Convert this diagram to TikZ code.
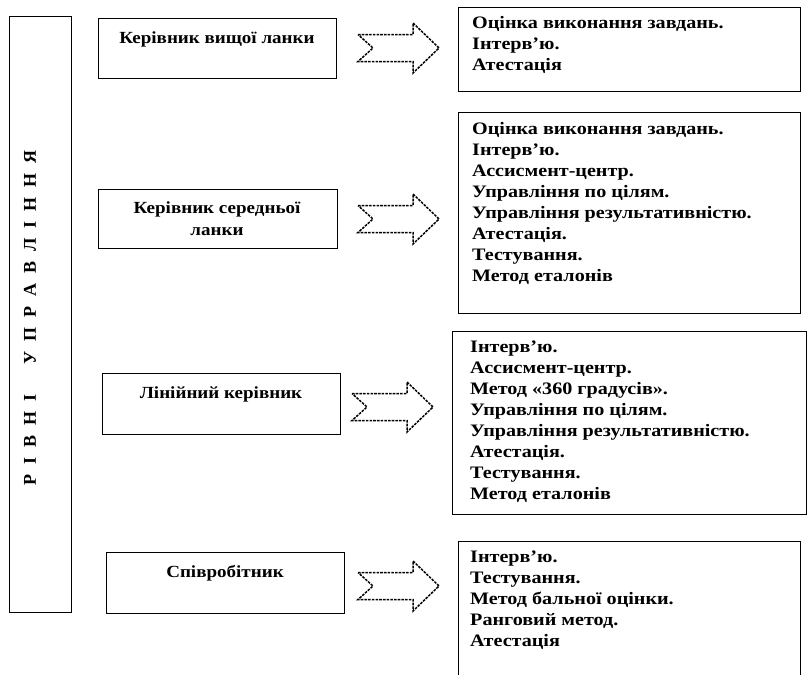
\documentclass[tikz,border=0pt]{standalone}
\usepackage{fontspec}
\setmainfont{Liberation Serif}[FakeStretch=1.12]
\newfontfamily\listfont{Liberation Serif}[FakeStretch=1.15]
\newfontfamily\vfont{Liberation Serif}
\tikzset{
  box/.style={draw, line width=0.8pt, inner sep=0pt, anchor=north west},
  itemtxt/.style={font=\listfont\fontsize{17.5}{21}\selectfont\bfseries, inner sep=0pt, align=left, anchor=north west},
  headtxt/.style={font=\fontsize{17}{22}\selectfont\bfseries, inner sep=0pt, align=center},
  vtxt/.style={font=\vfont\fontsize{18}{20}\selectfont\bfseries, inner sep=0pt, rotate=90},
  notchline/.style={draw, line width=1.5pt, dash pattern=on 2.6pt off 1.1pt, line join=miter},
  pics/notcharrow/.style={code={
    \draw[notchline] (0,-13.5) -- (55,-13.5) -- (55,-25) -- (81,0) -- (55,25) -- (55,13.5) -- (0,13.5) -- (15,0) -- cycle;
  }}
}
\newcommand{\gp}{\hspace{10pt}}
\begin{document}
\begin{tikzpicture}[x=1pt,y=-1pt]
\useasboundingbox (0,0) rectangle (809,675);
\fill[white] (0,0) rectangle (809,675);

% left bar
\node[box, minimum width=62pt, minimum height=596pt] (bar) at (9,16) {};
\node[vtxt] (lvl) at (30,318) {Р\gp І\gp В\gp Н\gp І\gp\gp\gp У\gp П\gp Р\gp А\gp В\gp Л\gp І\gp Н\gp Н\gp Я};

% level boxes
\node[box, minimum width=238pt, minimum height=60pt] (b1) at (98,18) {};
\node[headtxt] (t1) at (217,39) {Керівник вищої ланки};
\node[box, minimum width=239pt, minimum height=59pt] (b2) at (98,189) {};
\node[headtxt] (t2) at (217,219) {Керівник середньої\\ланки};
\node[box, minimum width=238pt, minimum height=61pt] (b3) at (102,373) {};
\node[headtxt] (t3) at (221,394) {Лінійний керівник};
\node[box, minimum width=238pt, minimum height=61pt] (b4) at (106,552) {};
\node[headtxt] (t4) at (225,573) {Співробітник};

% arrows
\pic at (358,48) {notcharrow};
\pic at (358,219) {notcharrow};
\pic at (352,407) {notcharrow};
\pic at (358,586) {notcharrow};

% method boxes
\node[box, minimum width=342pt, minimum height=84pt] (r1) at (458,7) {};
\node[itemtxt] (m1) at (472,16) {Оцінка виконання завдань.\\Інтерв’ю.\\Атестація};
\node[box, minimum width=342pt, minimum height=201pt] (r2) at (458,112) {};
\node[itemtxt] (m2) at (472,122) {Оцінка виконання завдань.\\Інтерв’ю.\\Ассисмент-центр.\\Управління по цілям.\\Управління результативністю.\\Атестація.\\Тестування.\\Метод еталонів};
\node[box, minimum width=354pt, minimum height=183pt] (r3) at (452,331) {};
\node[itemtxt] (m3) at (470,341) {Інтерв’ю.\\Ассисмент-центр.\\Метод «360 градусів».\\Управління по цілям.\\Управління результативністю.\\Атестація.\\Тестування.\\Метод еталонів};
\draw[line width=0.8pt] (458,690) -- (458,541) -- (800,541) -- (800,690);
\node[itemtxt] (m4) at (470,551) {Інтерв’ю.\\Тестування.\\Метод бальної оцінки.\\Ранговий метод.\\Атестація};
\end{tikzpicture}
\end{document}
